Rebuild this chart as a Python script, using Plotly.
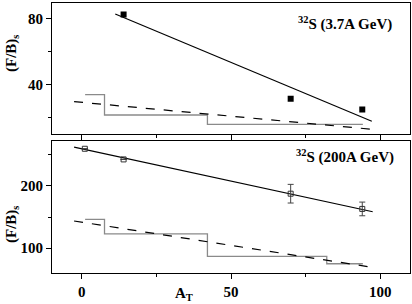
import plotly.graph_objects as go
from plotly.subplots import make_subplots

# ---- data: 32S at 3.7A GeV (top panel) ----
at_top = [14, 70, 94]
fb_top = [82.5, 31.5, 25.0]
fit_top_x = [11.2, 97.2]
fit_top_y = [82.8, 17.8]
dash_top_x = [-2.6, 97.5]
dash_top_y = [29.7, 12.9]
step_top_edges = [1.1, 7.6, 42.1, 94.2]
step_top_vals = [33.9, 21.6, 15.9]

# ---- data: 32S at 200A GeV (bottom panel) ----
at_bot = [1, 14, 70, 94]
fb_bot = [259.7, 242.6, 187.5, 163.0]
fb_bot_err = [0, 0, 15, 11]
fit_bot_x = [-2.6, 97.5]
fit_bot_y = [262.3, 158.5]
dash_bot_x = [-2.6, 97.5]
dash_bot_y = [143.6, 69.0]
step_bot_edges = [1.1, 7.6, 42.1, 82.1, 94.2]
step_bot_vals = [146.3, 122.8, 86.6, 74.9]

x_ticks = [0, 50, 100]
top_yticks = [40, 80]
bot_yticks = [100, 200]

FONT = "Liberation Serif"
W, H = 412, 304
ML, MR, MT, MB = 52, 2, 3, 31
PW, PH = W - ML - MR, H - MT - MB

fig = make_subplots(rows=2, cols=1, shared_xaxes=False, vertical_spacing=0.02)

def px2py(ypx):
    return (H - MB - ypx) / PH

def px2px(xpx):
    return (xpx - ML) / PW

step_color = "#8a8a8a"

# top panel
fig.add_trace(go.Scatter(x=step_top_edges, y=step_top_vals + [step_top_vals[-1]],
                         mode="lines", line=dict(shape="hv", color=step_color, width=1.3)), row=1, col=1)
fig.add_trace(go.Scatter(x=dash_top_x, y=dash_top_y, mode="lines",
                         line=dict(color="black", width=1.2, dash="dash")), row=1, col=1)
fig.add_trace(go.Scatter(x=fit_top_x, y=fit_top_y, mode="lines",
                         line=dict(color="black", width=1.2)), row=1, col=1)
fig.add_trace(go.Scatter(x=at_top, y=fb_top, mode="markers",
                         marker=dict(symbol="square", size=6, color="black")), row=1, col=1)

# bottom panel
fig.add_trace(go.Scatter(x=step_bot_edges, y=step_bot_vals + [step_bot_vals[-1]],
                         mode="lines", line=dict(shape="hv", color=step_color, width=1.3)), row=2, col=1)
fig.add_trace(go.Scatter(x=dash_bot_x, y=dash_bot_y, mode="lines",
                         line=dict(color="black", width=1.2, dash="dash")), row=2, col=1)
fig.add_trace(go.Scatter(x=fit_bot_x, y=fit_bot_y, mode="lines",
                         line=dict(color="black", width=1.2)), row=2, col=1)
fig.add_trace(go.Scatter(x=at_bot, y=fb_bot, mode="markers",
                         error_y=dict(type="data", array=fb_bot_err, color="#444444", thickness=1, width=3),
                         marker=dict(symbol="square-open", size=5, color="#333333", line=dict(width=1))),
              row=2, col=1)

axis_common = dict(showline=True, mirror=True, linecolor="black", linewidth=1,
                   ticks="outside", ticklen=5, tickcolor="black", showgrid=False, zeroline=False,
                   tickfont=dict(family=FONT, size=15, color="black", weight="bold"))

top_dom = [px2py(134.3), 1.0]
bot_dom = [0.0, px2py(140.5)]

fig.update_xaxes(range=[-10, 110], tickvals=x_ticks, showticklabels=False,
                 minor=dict(dtick=25, tick0=0, ticks="outside", ticklen=3, tickcolor="black"),
                 **axis_common, row=1, col=1)
fig.update_xaxes(range=[-10, 110], tickvals=x_ticks,
                 minor=dict(dtick=25, tick0=0, ticks="outside", ticklen=3, tickcolor="black"),
                 **axis_common, row=2, col=1)
fig.update_yaxes(range=[9.9, 89.5], tickvals=top_yticks, domain=top_dom,
                 minor=dict(dtick=20, tick0=0, ticks="outside", ticklen=3, tickcolor="black"),
                 **axis_common, row=1, col=1)
fig.update_yaxes(range=[60, 273], tickvals=bot_yticks, domain=bot_dom,
                 minor=dict(dtick=50, tick0=0, ticks="outside", ticklen=3, tickcolor="black"),
                 **axis_common, row=2, col=1)

lab_font = dict(family=FONT, size=15, color="black", weight="bold")
ann = [
    dict(text="<sup>32</sup>S (3.7A GeV)", x=px2px(394), y=px2py(23), xanchor="right", yanchor="middle"),
    dict(text="<sup>32</sup>S (200A GeV)", x=px2px(396), y=px2py(156), xanchor="right", yanchor="middle"),
    dict(text="(F/B)<sub>s</sub>", x=px2px(12), y=px2py(54), textangle=-90, xanchor="center", yanchor="middle"),
    dict(text="(F/B)<sub>s</sub>", x=px2px(12), y=px2py(225), textangle=-90, xanchor="center", yanchor="middle"),
    dict(text="A<sub>T</sub>", x=px2px(184), y=px2py(294), xanchor="center", yanchor="middle"),
]
for a in ann:
    fig.add_annotation(xref="paper", yref="paper", showarrow=False, font=lab_font, **a)

fig.update_layout(width=W, height=H, margin=dict(l=ML, r=MR, t=MT, b=MB),
                  plot_bgcolor="white", paper_bgcolor="white", showlegend=False)

fig.write_html("out.html", config={"displayModeBar": False},
               post_script="document.body.style.margin='0';document.body.style.overflow='hidden';")
